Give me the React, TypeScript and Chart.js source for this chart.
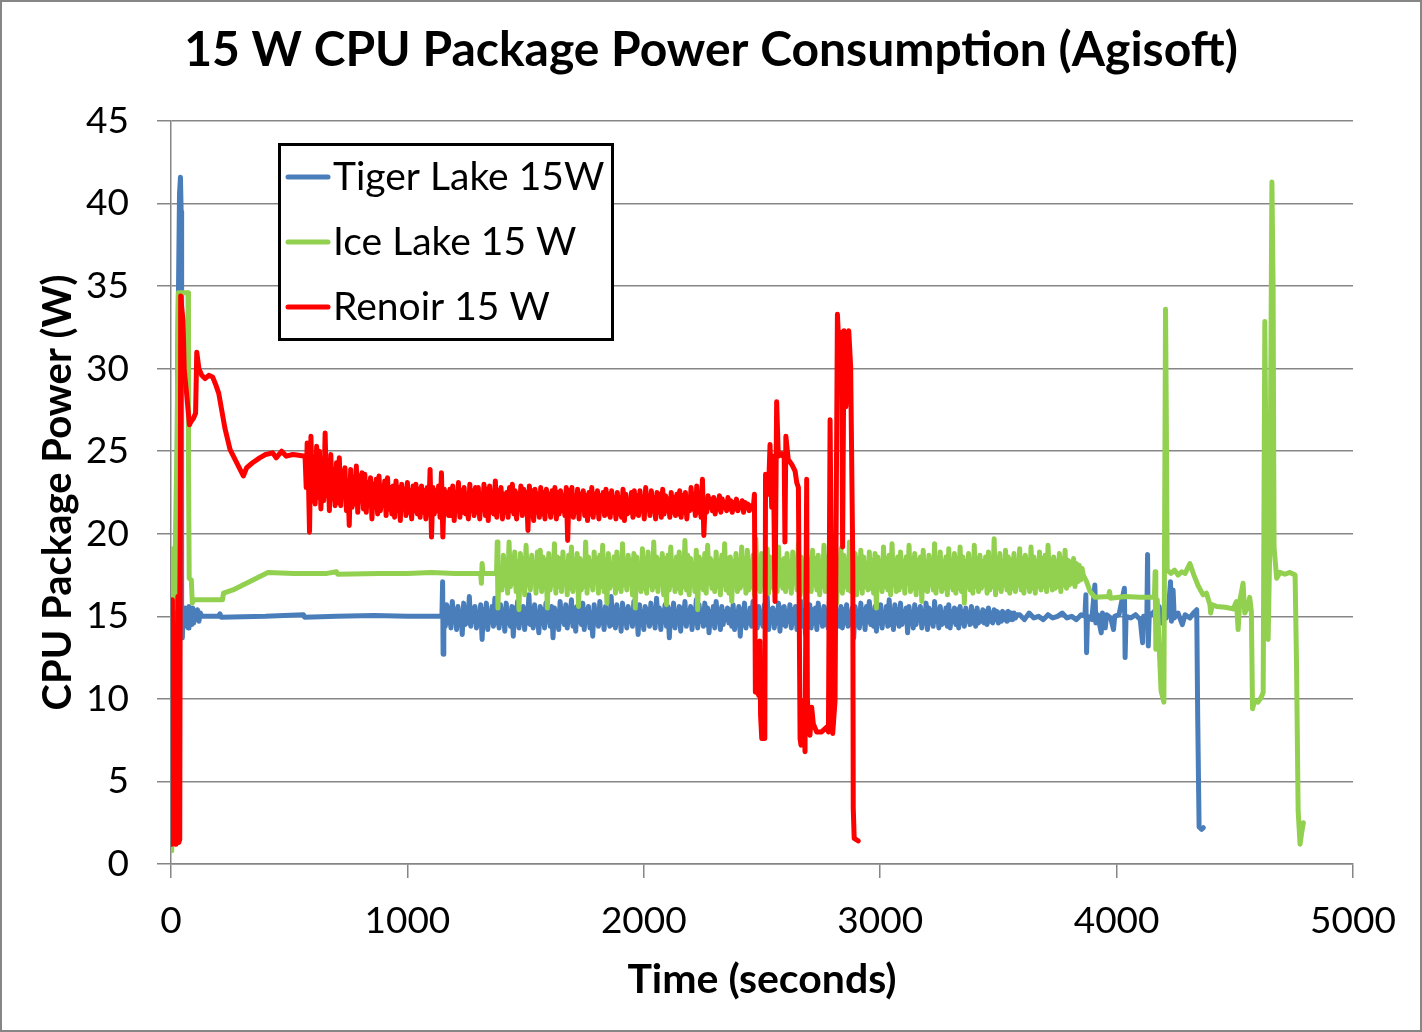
import React, { useEffect, useRef } from "react";
import { Chart, registerables } from "chart.js";

Chart.register(...registerables);

const FONT = "Lato, 'Open Sans', sans-serif";

const chartTitle = "15 W CPU Package Power Consumption (Agisoft)";
const xAxisTitle = "Time (seconds)";
const yAxisTitle = "CPU Package Power (W)";
const xTickValues = [0, 1000, 2000, 3000, 4000, 5000];
const yTickValues = [0, 5, 10, 15, 20, 25, 30, 35, 40, 45];
const seriesNames = ["Tiger Lake 15W", "Ice Lake 15 W", "Renoir 15 W"];

// [time (s), package power (W)]
const tigerLake: [number, number][] = [
  [24, 14.2], [28, 30.0], [36, 40.6], [40, 41.6], [43, 39.5], [45, 14.2], [48, 13.7],
  [52, 15.3], [56, 14.4], [60, 15.5], [64, 14.6], [68, 15.2], [72, 14.3], [76, 15.6], [80, 14.7], [84, 15.4], [88, 14.5],
  [92, 15.5], [96, 14.6], [100, 15.3], [106, 14.8], [112, 15.4], [118, 14.7], [124, 15.2], [130, 15.0],
  [200, 15.0], [207, 15.15], [212, 14.95], [400, 15.0], [560, 15.1], [565, 14.95], [700, 15.0], [860, 15.05], [1000, 15.0], [1146, 15.0],
  [1149, 17.1], [1151, 12.7], [1154, 15.2],
  [1160, 14.4], [1166, 15.7], [1172, 14.6], [1178, 15.5], [1184, 14.3], [1190, 15.9], [1196, 14.7], [1202, 15.4], [1208, 14.2], [1214, 15.6],
  [1220, 14.8], [1226, 15.3], [1232, 13.9], [1238, 15.8], [1244, 14.5], [1250, 15.2], [1256, 14.6], [1262, 16.2], [1268, 14.4], [1274, 15.5],
  [1280, 14.7], [1286, 15.6], [1292, 14.3], [1298, 15.1], [1304, 14.6], [1310, 15.7], [1316, 13.6], [1322, 15.4], [1328, 14.5], [1334, 15.8],
  [1340, 14.2], [1346, 15.3], [1352, 14.8], [1358, 15.6], [1364, 14.4], [1370, 16.1], [1376, 14.6], [1382, 15.2], [1388, 14.3], [1394, 15.7],
  [1400, 14.9], [1406, 15.4], [1412, 14.1], [1418, 15.8], [1424, 14.6], [1430, 15.3], [1436, 14.4], [1442, 15.6], [1448, 13.8], [1454, 15.5],
  [1460, 14.7], [1466, 15.9], [1472, 14.3], [1478, 15.2], [1484, 14.8], [1490, 15.6], [1496, 14.2], [1502, 15.4], [1508, 14.6], [1514, 16.3],
  [1520, 14.5], [1526, 15.3], [1532, 14.3], [1538, 15.7], [1544, 14.7], [1550, 15.1], [1556, 14.0], [1562, 15.6], [1568, 14.6], [1574, 15.4],
  [1580, 14.3], [1586, 15.8], [1592, 14.8], [1598, 15.2], [1604, 14.4], [1610, 15.6], [1616, 13.7], [1622, 15.5], [1628, 14.6], [1634, 15.3],
  [1640, 14.2], [1646, 15.9], [1652, 14.7], [1658, 15.4], [1664, 14.5], [1670, 15.7], [1676, 14.3], [1682, 15.2], [1688, 14.9], [1694, 16.0],
  [1700, 14.4], [1706, 15.5], [1712, 14.1], [1718, 15.6], [1724, 14.7], [1730, 15.3], [1736, 14.5], [1742, 15.8], [1748, 14.2], [1754, 15.4],
  [1760, 14.8], [1766, 15.6], [1772, 14.3], [1778, 15.2], [1784, 13.8], [1790, 15.7], [1796, 14.6], [1802, 15.4], [1808, 14.4], [1814, 15.9],
  [1820, 14.6], [1826, 15.3], [1832, 14.2], [1838, 15.6], [1844, 14.8], [1850, 15.1], [1856, 14.4], [1862, 16.2], [1868, 14.5], [1874, 15.5],
  [1880, 14.3], [1886, 15.7], [1892, 14.7], [1898, 15.3], [1904, 14.1], [1910, 15.8], [1916, 14.6], [1922, 15.4], [1928, 14.3], [1934, 15.6],
  [1940, 14.8], [1946, 15.2], [1952, 14.4], [1958, 15.9], [1964, 14.6], [1970, 15.5], [1976, 13.9], [1982, 15.7], [1988, 14.5], [1994, 15.3],
  [2000, 14.2], [2006, 15.6], [2012, 14.7], [2018, 15.4], [2024, 14.4], [2030, 15.8], [2036, 14.6], [2042, 15.2], [2048, 14.3], [2054, 16.1],
  [2060, 14.7], [2066, 15.5], [2072, 14.2], [2078, 15.3], [2084, 14.8], [2090, 15.7], [2096, 14.4], [2102, 15.6], [2108, 13.7], [2114, 15.4],
  [2120, 14.5], [2126, 15.8], [2132, 14.3], [2138, 15.2], [2144, 14.7], [2150, 15.6], [2156, 14.1], [2162, 15.5], [2168, 14.6], [2174, 15.9],
  [2180, 14.4], [2186, 15.3], [2192, 14.8], [2198, 15.6], [2204, 14.2], [2210, 15.4], [2216, 14.6], [2222, 16.0], [2228, 14.3], [2234, 15.7],
  [2240, 14.7], [2246, 15.2], [2252, 14.4], [2258, 15.8], [2264, 14.5], [2270, 15.5], [2276, 14.0], [2282, 15.3], [2288, 14.6], [2294, 15.6],
  [2300, 14.3], [2306, 15.9], [2312, 14.7], [2318, 15.4], [2324, 14.2], [2330, 15.6], [2336, 14.5], [2342, 15.3], [2348, 14.8], [2354, 15.5],
  [2360, 14.6], [2366, 15.4], [2372, 14.4], [2378, 15.7], [2384, 14.2], [2390, 15.3], [2396, 14.7], [2402, 15.6], [2408, 13.8], [2414, 15.4],
  [2420, 14.5], [2426, 15.8], [2432, 14.3], [2438, 15.2], [2444, 14.6], [2450, 15.5], [2456, 14.4], [2462, 15.9], [2468, 14.7], [2474, 15.3],
  [2480, 14.3], [2486, 15.6], [2492, 14.6], [2498, 15.2], [2504, 14.4], [2510, 15.7], [2516, 14.5], [2522, 16.2], [2528, 14.2], [2534, 15.4],
  [2540, 14.7], [2546, 15.5], [2552, 14.3], [2558, 15.3], [2564, 14.6], [2570, 15.8], [2576, 14.1], [2582, 15.5], [2588, 14.5], [2594, 15.6],
  [2600, 14.4], [2606, 15.3], [2612, 14.7], [2618, 15.7], [2624, 14.3], [2630, 15.4], [2636, 14.6], [2642, 15.6], [2648, 14.2], [2654, 15.2],
  [2660, 14.8], [2666, 15.9], [2672, 14.4], [2678, 15.5], [2684, 13.9], [2690, 15.3], [2696, 14.6], [2702, 15.7], [2708, 14.3], [2714, 15.4],
  [2720, 14.6], [2726, 15.5], [2732, 14.2], [2738, 15.8], [2744, 14.7], [2750, 15.3], [2756, 14.4], [2762, 15.6], [2768, 14.5], [2774, 15.2],
  [2780, 14.3], [2786, 16.1], [2792, 14.6], [2798, 15.4], [2804, 14.2], [2810, 15.7], [2816, 14.7], [2822, 15.3], [2828, 14.4], [2834, 15.6],
  [2840, 14.3], [2846, 15.4], [2852, 14.6], [2858, 15.7], [2864, 14.4], [2870, 15.2], [2876, 14.8], [2882, 15.5], [2888, 13.7], [2894, 15.6],
  [2900, 14.5], [2906, 15.3], [2912, 14.3], [2918, 15.8], [2924, 14.6], [2930, 15.4], [2936, 14.2], [2942, 15.6], [2948, 14.7], [2954, 15.9],
  [2960, 14.5], [2966, 15.3], [2972, 14.4], [2978, 15.6], [2984, 14.1], [2990, 15.5], [2996, 14.6], [3002, 15.7], [3008, 14.3], [3014, 15.2],
  [3020, 14.7], [3026, 15.6], [3032, 14.4], [3038, 16.0], [3044, 14.5], [3050, 15.3], [3056, 14.2], [3062, 15.7], [3068, 14.6], [3074, 15.4],
  [3080, 14.4], [3086, 15.8], [3092, 14.5], [3098, 15.3], [3104, 14.7], [3110, 15.5], [3116, 14.0], [3122, 15.6], [3128, 14.6], [3134, 15.2],
  [3140, 14.3], [3146, 15.7], [3152, 14.5], [3158, 15.4], [3164, 14.8], [3170, 15.6], [3176, 14.3], [3182, 15.2], [3188, 14.6], [3194, 15.8],
  [3200, 14.2], [3206, 15.5], [3212, 14.6], [3218, 15.3], [3224, 14.4], [3230, 15.9], [3236, 14.7], [3242, 15.4], [3248, 14.3], [3254, 15.6],
  [3260, 14.5], [3266, 15.2], [3272, 14.6], [3278, 15.5], [3284, 14.4], [3290, 15.7], [3296, 14.3], [3302, 15.3], [3308, 14.7], [3314, 15.5],
  [3320, 14.5], [3326, 15.4], [3332, 14.3], [3338, 15.6], [3344, 14.6], [3350, 15.3], [3356, 14.4], [3362, 15.5], [3368, 14.7], [3374, 15.2],
  [3380, 14.5], [3386, 15.6], [3392, 14.6], [3398, 15.3], [3404, 14.4], [3410, 15.5], [3416, 14.6], [3422, 15.2], [3428, 14.7], [3434, 15.4],
  [3440, 14.6], [3446, 15.3], [3452, 14.5], [3458, 15.5], [3464, 14.7], [3470, 15.2], [3476, 14.6], [3482, 15.4], [3488, 14.8], [3494, 15.3],
  [3500, 14.6], [3506, 15.2], [3512, 14.7], [3518, 15.3], [3524, 14.8], [3530, 15.2], [3536, 14.7], [3542, 15.3], [3548, 14.8], [3554, 15.2],
  [3560, 14.8], [3566, 15.2], [3572, 14.9], [3578, 15.1],
  [3590, 15.1], [3610, 14.8], [3630, 15.2], [3650, 14.9], [3670, 15.0], [3690, 14.8], [3710, 15.1], [3730, 14.9], [3750, 15.0], [3770, 15.2],
  [3790, 14.9], [3810, 15.0], [3830, 14.8], [3850, 15.1], [3866, 15.0], [3870, 16.3], [3873, 12.8], [3877, 15.0], [3895, 14.8], [3908, 16.9],
  [3912, 14.6], [3920, 15.1], [3935, 14.0], [3940, 15.2], [3952, 14.3], [3958, 15.1], [3975, 14.9], [3987, 14.2], [3992, 15.0], [4010, 15.1],
  [4033, 16.7], [4036, 12.5], [4040, 15.0], [4060, 14.9], [4080, 15.1], [4100, 14.8], [4110, 13.4], [4114, 15.0], [4128, 15.0], [4131, 18.75],
  [4134, 13.2], [4138, 15.0], [4160, 15.3], [4170, 14.4], [4180, 15.6], [4190, 14.6], [4200, 15.4], [4210, 14.9], [4220, 15.5], [4228, 17.1],
  [4232, 14.7], [4239, 16.6], [4244, 14.9], [4260, 15.2], [4278, 14.5], [4290, 15.1], [4310, 14.9], [4325, 15.2], [4339, 15.4], [4343, 9.0],
  [4349, 2.25], [4360, 2.1], [4367, 2.2],
];

const iceLake: [number, number][] = [
  [0, 0.8], [3, 19.0], [10, 19.1], [15, 15.5], [18, 19.0], [26, 26.0], [31, 34.6], [72, 34.6], [74, 24.2], [77, 17.3], [86, 17.2],
  [90, 15.8], [96, 16.0], [218, 16.0], [222, 16.4], [262, 16.6], [410, 17.65], [520, 17.6], [660, 17.6], [700, 17.7], [705, 17.55],
  [880, 17.6], [1000, 17.6], [1100, 17.65], [1200, 17.6], [1310, 17.6], [1313, 17.0], [1316, 18.2], [1320, 17.6], [1377, 17.6],
  [1380, 19.5], [1383, 15.5], [1387, 17.6], [1392, 17.4],
  [1400, 16.6], [1406, 18.7], [1412, 16.9], [1418, 18.4], [1424, 16.4], [1430, 19.5], [1436, 16.8], [1442, 18.6], [1448, 17.0], [1454, 18.9],
  [1460, 16.5], [1466, 18.3], [1472, 15.4], [1478, 18.8], [1484, 16.7], [1490, 18.5], [1496, 16.3], [1502, 19.3], [1508, 16.9], [1514, 18.4],
  [1520, 16.6], [1526, 18.7], [1532, 17.1], [1538, 18.2], [1544, 16.4], [1550, 18.9], [1556, 16.8], [1562, 19.0], [1568, 16.5], [1574, 18.6],
  [1580, 17.0], [1586, 18.4], [1592, 15.5], [1598, 18.8], [1604, 16.6], [1610, 18.3], [1616, 16.9], [1622, 19.4], [1628, 16.4], [1634, 18.6],
  [1640, 16.8], [1646, 18.5], [1652, 16.5], [1658, 18.9], [1664, 17.0], [1670, 18.2], [1676, 16.3], [1682, 18.7], [1688, 16.7], [1694, 19.2],
  [1700, 16.5], [1706, 18.4], [1712, 16.9], [1718, 18.8], [1724, 15.6], [1730, 18.5], [1736, 16.6], [1742, 18.3], [1748, 16.8], [1754, 19.5],
  [1760, 16.4], [1766, 18.6], [1772, 16.9], [1778, 18.3], [1784, 16.6], [1790, 18.9], [1796, 17.1], [1802, 18.5], [1808, 16.4], [1814, 18.7],
  [1820, 16.8], [1826, 19.3], [1832, 16.5], [1838, 18.4], [1844, 15.8], [1850, 18.8], [1856, 16.7], [1862, 18.2], [1868, 16.9], [1874, 18.6],
  [1880, 16.4], [1886, 18.9], [1892, 16.7], [1898, 18.5], [1904, 16.5], [1910, 19.4], [1916, 16.9], [1922, 18.3], [1928, 16.6], [1934, 18.7],
  [1940, 17.0], [1946, 18.4], [1952, 16.3], [1958, 18.8], [1964, 15.5], [1970, 18.6], [1976, 16.8], [1982, 18.2], [1988, 16.5], [1994, 19.1],
  [2000, 16.7], [2006, 18.5], [2012, 16.4], [2018, 18.9], [2024, 16.9], [2030, 18.3], [2036, 16.6], [2042, 19.5], [2048, 16.8], [2054, 18.6],
  [2060, 16.5], [2066, 18.4], [2072, 17.0], [2078, 18.8], [2084, 16.3], [2090, 18.5], [2096, 15.7], [2102, 18.7], [2108, 16.6], [2114, 19.2],
  [2120, 16.9], [2126, 18.3], [2132, 16.5], [2138, 18.6], [2144, 16.7], [2150, 18.9], [2156, 16.4], [2162, 18.4], [2168, 16.8], [2174, 19.6],
  [2180, 16.6], [2186, 18.7], [2192, 16.3], [2198, 18.5], [2204, 16.9], [2210, 18.2], [2216, 16.5], [2222, 19.0], [2228, 15.4], [2234, 18.6],
  [2240, 16.8], [2246, 18.4], [2252, 16.6], [2258, 18.8], [2264, 16.4], [2270, 19.3], [2276, 17.0], [2282, 18.5], [2288, 16.7], [2294, 18.3],
  [2300, 16.5], [2306, 18.9], [2312, 16.8], [2318, 18.4], [2324, 16.3], [2330, 18.7], [2336, 16.9], [2342, 19.4], [2348, 16.6], [2354, 18.5],
  [2360, 16.4], [2366, 18.6], [2372, 15.9], [2378, 18.3], [2384, 16.8], [2390, 18.8], [2396, 16.5], [2402, 18.4], [2408, 16.7], [2414, 19.2],
  [2420, 16.9], [2426, 18.5], [2432, 16.4], [2438, 19.0], [2444, 16.6], [2450, 18.3], [2456, 16.8], [2462, 18.7], [2468, 16.3], [2474, 19.7],
  [2480, 16.7], [2486, 18.4], [2492, 16.5], [2498, 18.8], [2504, 16.9], [2510, 18.2], [2516, 16.6], [2522, 19.1], [2528, 16.4], [2534, 18.6],
  [2540, 16.8], [2546, 18.3], [2552, 16.6], [2558, 18.7], [2564, 16.5], [2570, 19.2], [2576, 16.9], [2582, 18.4], [2588, 16.7], [2594, 18.5],
  [2600, 16.5], [2606, 18.8], [2612, 16.8], [2618, 18.3], [2624, 16.4], [2630, 18.9], [2636, 17.0], [2642, 18.5], [2648, 16.6], [2654, 19.4],
  [2660, 16.3], [2666, 18.6], [2672, 16.9], [2678, 18.2], [2684, 15.6], [2690, 18.7], [2696, 16.7], [2702, 18.4], [2708, 16.5], [2714, 19.0],
  [2720, 16.9], [2726, 18.5], [2732, 16.6], [2738, 18.7], [2744, 16.3], [2750, 18.3], [2756, 16.8], [2762, 19.3], [2768, 16.5], [2774, 18.6],
  [2780, 16.7], [2786, 18.9], [2792, 16.4], [2798, 18.4], [2804, 16.9], [2810, 18.8], [2816, 15.8], [2822, 18.5], [2828, 16.6], [2834, 19.1],
  [2840, 16.4], [2846, 18.7], [2852, 16.8], [2858, 18.4], [2864, 16.6], [2870, 19.5], [2876, 16.5], [2882, 18.3], [2888, 16.9], [2894, 18.8],
  [2900, 16.3], [2906, 18.5], [2912, 16.7], [2918, 19.0], [2924, 16.4], [2930, 18.6], [2936, 16.8], [2942, 18.2], [2948, 16.6], [2954, 18.9],
  [2960, 16.7], [2966, 18.4], [2972, 16.4], [2978, 18.8], [2984, 15.5], [2990, 18.6], [2996, 16.9], [3002, 18.3], [3008, 16.5], [3014, 19.2],
  [3020, 16.8], [3026, 18.5], [3032, 16.6], [3038, 18.7], [3044, 16.3], [3050, 19.4], [3056, 16.9], [3062, 18.4], [3068, 16.5], [3074, 18.6],
  [3080, 16.6], [3086, 18.9], [3092, 16.8], [3098, 18.3], [3104, 16.4], [3110, 18.6], [3116, 17.0], [3122, 19.3], [3128, 16.5], [3134, 18.5],
  [3140, 16.7], [3146, 18.8], [3152, 16.3], [3158, 18.4], [3164, 16.9], [3170, 18.6], [3176, 15.9], [3182, 19.0], [3188, 16.6], [3194, 18.3],
  [3200, 16.5], [3206, 18.7], [3212, 16.9], [3218, 18.4], [3224, 16.6], [3230, 19.4], [3236, 16.4], [3242, 18.5], [3248, 16.8], [3254, 18.9],
  [3260, 16.5], [3266, 18.3], [3272, 16.7], [3278, 18.6], [3284, 16.3], [3290, 19.1], [3296, 16.8], [3302, 18.4], [3308, 16.6], [3314, 18.8],
  [3320, 16.4], [3326, 18.5], [3332, 16.7], [3338, 19.2], [3344, 16.5], [3350, 18.6], [3356, 15.8], [3362, 18.3], [3368, 16.9], [3374, 18.8],
  [3380, 16.6], [3386, 18.4], [3392, 16.4], [3398, 19.3], [3404, 16.8], [3410, 18.5], [3416, 16.5], [3422, 18.7], [3428, 16.7], [3434, 18.3],
  [3440, 16.9], [3446, 18.6], [3452, 16.4], [3458, 18.9], [3464, 16.6], [3470, 18.4], [3476, 16.8], [3482, 19.7], [3488, 16.3], [3494, 18.5],
  [3500, 16.7], [3506, 18.8], [3512, 16.5], [3518, 18.3], [3524, 16.9], [3530, 19.0], [3536, 16.6], [3542, 18.6], [3548, 16.4], [3554, 18.4],
  [3560, 16.7], [3566, 18.8], [3572, 16.5], [3578, 18.3], [3584, 16.9], [3590, 19.1], [3596, 16.6], [3602, 18.5], [3608, 16.4], [3614, 18.7],
  [3620, 16.8], [3626, 18.4], [3632, 16.5], [3638, 19.2], [3644, 16.7], [3650, 18.6], [3656, 16.4], [3662, 18.3], [3668, 16.8], [3674, 18.9],
  [3680, 16.6], [3686, 18.5], [3692, 16.8], [3698, 18.7], [3704, 16.5], [3710, 19.3], [3716, 16.9], [3722, 18.4], [3728, 16.6], [3734, 18.6],
  [3740, 16.7], [3746, 18.3], [3752, 16.8], [3758, 18.8], [3764, 16.5], [3770, 18.5], [3776, 16.9], [3782, 19.0], [3788, 16.7], [3794, 18.4],
  [3800, 16.9], [3806, 18.3], [3812, 17.0], [3818, 18.5], [3824, 16.8], [3830, 18.2], [3836, 17.1], [3842, 18.1], [3848, 17.2], [3854, 17.9],
  [3859, 17.5], [3873, 17.1], [3888, 16.5], [3909, 16.15], [3966, 16.2], [3970, 16.5], [3974, 16.1], [4036, 16.2], [4100, 16.15], [4160, 16.15],
  [4163, 17.7], [4166, 13.0], [4172, 16.0], [4188, 10.5], [4200, 9.8], [4207, 33.6], [4210, 27.7], [4214, 17.8], [4230, 17.6], [4245, 17.8],
  [4260, 17.5], [4275, 17.7], [4290, 17.6], [4310, 18.2], [4327, 17.5], [4345, 16.85], [4366, 16.3], [4380, 16.4], [4395, 15.7], [4398, 15.2],
  [4405, 15.7], [4423, 15.6], [4460, 15.55], [4493, 15.45], [4507, 15.9], [4514, 14.2], [4521, 15.9], [4535, 17.0], [4542, 15.2], [4556, 15.6],
  [4563, 16.15], [4570, 15.3], [4575, 9.4], [4584, 9.9], [4598, 9.8], [4612, 10.1], [4620, 10.4], [4627, 32.85], [4634, 20.1], [4641, 13.6],
  [4648, 19.2], [4657, 41.3], [4662, 35.0], [4666, 19.2], [4677, 17.3], [4691, 17.66], [4712, 17.55], [4733, 17.66], [4755, 17.5], [4761, 12.2],
  [4768, 3.2], [4776, 1.2], [4784, 2.0], [4790, 2.5],
];

const renoir: [number, number][] = [
  [0, 1.5], [3, 1.2], [6, 16.0], [9, 1.3], [13, 1.6], [17, 1.2], [21, 14.5], [24, 1.4], [29, 16.2], [33, 1.3], [37, 1.5],
  [41, 34.4], [46, 33.6], [51, 32.9], [56, 29.9], [66, 28.5], [78, 26.6], [85, 26.8], [95, 27.0], [104, 27.3], [109, 31.0],
  [118, 30.0], [130, 29.6], [144, 29.4], [160, 29.6], [176, 29.5], [190, 29.0], [202, 28.5], [228, 26.4], [250, 25.1], [306, 23.5],
  [320, 24.0], [345, 24.3], [375, 24.6], [400, 24.8], [430, 24.9], [445, 24.6], [468, 25.0], [488, 24.7], [515, 24.8], [540, 24.75],
  [567, 24.7], [572, 22.8], [576, 25.5],
  [580, 24.2], [586, 20.1], [592, 25.9], [598, 22.0], [604, 24.6], [610, 21.8], [616, 25.3], [622, 22.2], [628, 25.0], [634, 21.5],
  [640, 24.1], [646, 22.0], [652, 26.1], [658, 22.3], [664, 24.4], [670, 21.4], [676, 24.8], [682, 22.1], [688, 23.9], [694, 21.7],
  [700, 24.3], [706, 21.9], [712, 24.6], [718, 21.7], [724, 23.8], [730, 22.4], [736, 24.0], [742, 21.4], [748, 23.2], [754, 20.5],
  [760, 23.9], [766, 21.6], [772, 23.4], [778, 21.8], [784, 24.1], [790, 21.3], [796, 23.5], [802, 22.0], [808, 23.7], [814, 21.5],
  [820, 23.6], [826, 21.3], [832, 23.1], [838, 22.0], [844, 23.4], [850, 20.9], [856, 23.0], [862, 21.6], [868, 23.3], [874, 21.2],
  [880, 23.5], [886, 21.4], [892, 22.9], [898, 21.7], [904, 23.2], [910, 21.1], [916, 23.4], [922, 21.5], [928, 22.8], [934, 21.2],
  [940, 22.9], [946, 21.0], [952, 23.2], [958, 21.4], [964, 22.8], [970, 20.8], [976, 23.0], [982, 21.5], [988, 22.7], [994, 21.1],
  [1000, 23.1], [1006, 21.3], [1012, 22.6], [1018, 20.9], [1024, 22.9], [1030, 21.4], [1036, 23.0], [1042, 21.2], [1048, 22.7], [1054, 21.0],
  [1060, 22.9], [1066, 21.3], [1072, 22.6], [1078, 20.9], [1084, 22.8], [1090, 21.2], [1096, 23.9], [1102, 19.8], [1108, 22.8], [1114, 21.2],
  [1120, 22.6], [1126, 21.4], [1132, 22.9], [1138, 21.0], [1144, 23.7], [1150, 19.8], [1156, 22.7], [1162, 21.3], [1168, 22.5], [1174, 21.1],
  [1180, 22.7], [1186, 21.1], [1192, 22.9], [1198, 20.8], [1204, 22.5], [1210, 21.4], [1216, 23.1], [1222, 21.0], [1228, 22.6], [1234, 21.3],
  [1240, 22.8], [1246, 21.2], [1252, 22.4], [1258, 20.9], [1264, 23.0], [1270, 21.4], [1276, 22.6], [1282, 21.1], [1288, 22.8], [1294, 21.3],
  [1300, 22.8], [1306, 20.9], [1312, 22.4], [1318, 21.5], [1324, 23.0], [1330, 21.1], [1336, 22.7], [1342, 20.8], [1348, 22.9], [1354, 21.3],
  [1360, 22.5], [1366, 21.2], [1372, 23.2], [1378, 21.0], [1384, 22.6], [1390, 21.4], [1396, 22.8], [1402, 20.9], [1408, 22.4], [1414, 21.3],
  [1420, 22.5], [1426, 21.0], [1432, 22.8], [1438, 21.4], [1444, 23.0], [1450, 21.2], [1456, 22.6], [1462, 20.9], [1468, 22.4], [1474, 21.5],
  [1480, 22.9], [1486, 21.1], [1492, 22.7], [1498, 21.3], [1504, 22.5], [1510, 20.2], [1516, 22.9], [1522, 21.1], [1528, 22.6], [1534, 20.8],
  [1540, 22.7], [1546, 21.3], [1552, 22.4], [1558, 21.0], [1564, 22.8], [1570, 21.2], [1576, 22.5], [1582, 20.9], [1588, 22.7], [1594, 21.4],
  [1600, 22.4], [1606, 21.0], [1612, 22.6], [1618, 21.3], [1624, 22.8], [1630, 20.9], [1636, 22.5], [1642, 21.2], [1648, 22.6], [1654, 21.4],
  [1660, 22.3], [1666, 21.1], [1672, 22.8], [1678, 19.6], [1684, 22.6], [1690, 21.4], [1696, 22.8], [1702, 21.0], [1708, 22.3], [1714, 21.3],
  [1720, 22.7], [1726, 20.9], [1732, 22.4], [1738, 21.5], [1744, 22.6], [1750, 21.1], [1756, 22.3], [1762, 20.8], [1768, 22.5], [1774, 21.2],
  [1780, 22.8], [1786, 21.0], [1792, 22.4], [1798, 21.3], [1804, 22.6], [1810, 20.9], [1816, 22.3], [1822, 21.4], [1828, 22.5], [1834, 21.1],
  [1840, 22.7], [1846, 21.2], [1852, 22.4], [1858, 21.0], [1864, 22.6], [1870, 21.3], [1876, 22.2], [1882, 20.9], [1888, 22.5], [1894, 21.2],
  [1900, 22.2], [1906, 21.0], [1912, 22.7], [1918, 20.8], [1924, 22.4], [1930, 21.2], [1936, 22.0], [1942, 21.3], [1948, 22.5], [1954, 21.0],
  [1960, 22.6], [1966, 21.2], [1972, 22.3], [1978, 21.1], [1984, 22.6], [1990, 21.4], [1996, 22.2], [2002, 20.9], [2008, 22.8], [2014, 21.5],
  [2020, 22.3], [2026, 21.1], [2032, 22.6], [2038, 21.4], [2044, 22.2], [2050, 20.9], [2056, 22.5], [2062, 21.3], [2068, 22.4], [2074, 21.0],
  [2080, 22.7], [2086, 21.2], [2092, 22.3], [2098, 21.4], [2104, 22.1], [2110, 21.0], [2116, 22.5], [2122, 21.3], [2128, 22.2], [2134, 21.1],
  [2140, 22.4], [2146, 21.2], [2152, 22.6], [2158, 21.0], [2164, 22.3], [2170, 21.3], [2176, 22.5], [2182, 20.9], [2188, 22.2], [2194, 21.4],
  [2200, 22.8], [2206, 21.5], [2212, 22.4], [2218, 21.1], [2224, 22.9], [2230, 21.3], [2236, 22.4], [2242, 21.0], [2248, 23.3], [2254, 19.9],
  [2260, 22.0], [2266, 21.3], [2272, 22.3], [2278, 21.6], [2284, 22.1], [2290, 21.4], [2296, 22.2], [2302, 21.2], [2308, 22.0], [2314, 21.5],
  [2320, 22.3], [2326, 21.3], [2332, 22.1], [2338, 21.6], [2344, 21.9], [2350, 21.4], [2356, 22.2], [2362, 21.5], [2368, 22.0], [2374, 21.3],
  [2380, 21.9], [2386, 21.5], [2392, 22.1], [2398, 21.4], [2404, 21.8], [2410, 21.6], [2416, 22.0], [2422, 21.3], [2428, 21.9], [2434, 21.6],
  [2440, 21.8], [2446, 21.4], [2452, 21.7], [2458, 21.5],
  [2463, 21.5], [2468, 22.4], [2472, 10.4], [2480, 10.6], [2486, 10.2], [2491, 13.5], [2494, 9.0], [2499, 7.6], [2512, 7.6], [2515, 23.6],
  [2527, 22.4], [2534, 25.4], [2541, 21.6], [2548, 24.7], [2555, 15.9], [2562, 28.0], [2569, 24.7], [2583, 24.85], [2594, 24.6], [2597, 19.5],
  [2601, 25.9], [2611, 24.5], [2626, 24.2], [2640, 23.8], [2647, 23.1], [2654, 22.8], [2661, 7.6], [2665, 7.2], [2675, 9.9], [2682, 6.8],
  [2689, 23.3], [2692, 9.9], [2703, 7.8], [2710, 9.5], [2717, 8.5], [2731, 8.0], [2752, 8.0], [2774, 8.3], [2781, 8.0], [2788, 26.9],
  [2799, 7.9], [2809, 9.9], [2819, 33.3], [2827, 30.8], [2837, 32.2], [2841, 19.2], [2847, 32.3], [2855, 27.7], [2867, 32.3], [2875, 30.1],
  [2879, 25.0], [2884, 18.2], [2886, 3.4], [2890, 1.55], [2907, 1.4],
];

const seriesData = [tigerLake, iceLake, renoir];
const seriesColors = ["#4A7EBB", "#92D050", "#FF0000"];
const seriesOrder = [2, 1, 0];

export default function App() {
  const canvasRef = useRef<HTMLCanvasElement>(null);

  useEffect(() => {
    document.body.style.margin = "0";
    const canvas = canvasRef.current;
    if (!canvas) return;

    const decor = {
      id: "decor",
      beforeDraw(chart: any) {
        const ctx = chart.ctx;
        ctx.save();
        ctx.fillStyle = "#ffffff";
        ctx.fillRect(0, 0, chart.width, chart.height);
        ctx.restore();
      },
      afterDatasetsDraw(chart: any) {
        const ctx = chart.ctx;
        ctx.save();
        // legend box
        ctx.fillStyle = "#ffffff";
        ctx.fillRect(279, 144, 334, 196);
        ctx.strokeStyle = "#000000";
        ctx.lineWidth = 3;
        ctx.strokeRect(279.5, 144.5, 333, 195);
        const rows = [177, 242, 307];
        ctx.font = `39px ${FONT}`;
        ctx.textBaseline = "middle";
        ctx.textAlign = "left";
        seriesNames.forEach((name, i) => {
          ctx.strokeStyle = seriesColors[i];
          ctx.lineWidth = 5;
          ctx.lineCap = "round";
          ctx.beginPath();
          ctx.moveTo(288, rows[i]);
          ctx.lineTo(328, rows[i]);
          ctx.stroke();
          ctx.fillStyle = "#000000";
          ctx.fillText(name, 333, rows[i]);
        });
        ctx.restore();
      },
      afterDraw(chart: any) {
        const ctx = chart.ctx;
        ctx.save();
        ctx.fillStyle = "#000000";
        ctx.font = `bold 48px ${FONT}`;
        ctx.textAlign = "center";
        ctx.textBaseline = "middle";
        ctx.fillText(chartTitle, chart.width / 2, 51);
        ctx.strokeStyle = "#868686";
        ctx.lineWidth = 2;
        ctx.strokeRect(1, 1, chart.width - 2, chart.height - 2);
        ctx.restore();
      },
    };

    const chart = new Chart(canvas, {
      type: "line",
      data: {
        datasets: seriesData.map((pts, i) => ({
          label: seriesNames[i],
          data: pts.map(([x, y]) => ({ x, y })),
          borderColor: seriesColors[i],
          backgroundColor: seriesColors[i],
          borderWidth: 5,
          pointRadius: 0,
          tension: 0,
          fill: false,
          borderCapStyle: "round",
          borderJoinStyle: "round",
          order: seriesOrder[i],
        })),
      },
      options: {
        animation: false,
        responsive: false,
        devicePixelRatio: 1,
        layout: { padding: { top: 121, right: 69, left: 0, bottom: 0 } },
        plugins: {
          legend: { display: false },
          title: { display: false },
          tooltip: { enabled: false },
        },
        scales: {
          x: {
            type: "linear",
            min: 0,
            max: 5000,
            afterBuildTicks: (scale: any) => {
              scale.ticks = xTickValues.map((v) => ({ value: v }));
            },
            afterFit: (scale: any) => {
              scale.height = 168;
            },
            ticks: {
              color: "#000000",
              font: { family: FONT, size: 37 },
              padding: 21,
              maxRotation: 0,
              autoSkip: false,
              callback: (v: any) => String(v),
            },
            grid: {
              drawOnChartArea: false,
              drawTicks: true,
              tickLength: 14,
              color: "#868686",
              lineWidth: 1.5,
            },
            border: { display: true, color: "#868686", width: 1.5 },
            title: {
              display: true,
              text: xAxisTitle,
              color: "#000000",
              font: { family: FONT, size: 41, weight: "bold" },
              padding: { top: 0, bottom: 28 },
            },
          },
          y: {
            type: "linear",
            min: 0,
            max: 45,
            afterBuildTicks: (scale: any) => {
              scale.ticks = yTickValues.map((v) => ({ value: v }));
            },
            afterFit: (scale: any) => {
              scale.width = 171;
            },
            ticks: {
              color: "#000000",
              font: { family: FONT, size: 37 },
              padding: 28,
              autoSkip: false,
              callback: (v: any) => String(v),
            },
            grid: {
              drawOnChartArea: true,
              drawTicks: true,
              tickLength: 14,
              color: "#868686",
              lineWidth: 1.5,
            },
            border: { display: true, color: "#868686", width: 1.5 },
            title: {
              display: true,
              text: yAxisTitle,
              color: "#000000",
              font: { family: FONT, size: 40, weight: "bold" },
              padding: { top: 34, bottom: 0 },
            },
          },
        },
      },
      plugins: [decor],
    } as any);

    return () => chart.destroy();
  }, []);

  return (
    <canvas
      ref={canvasRef}
      width={1422}
      height={1032}
      style={{ display: "block", width: "1422px", height: "1032px" }}
    />
  );
}
